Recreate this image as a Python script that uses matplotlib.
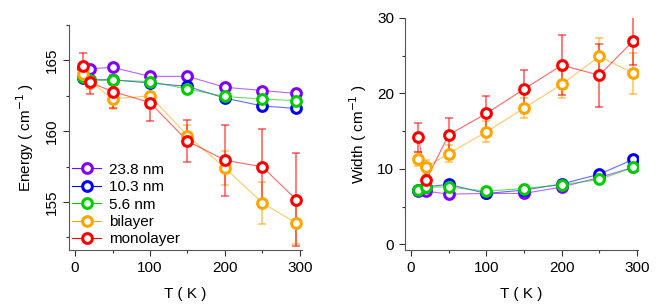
import matplotlib.pyplot as plt
import numpy as np
from matplotlib.ticker import MultipleLocator

plt.rcParams['font.family'] = ['Liberation Sans', 'DejaVu Sans']

T = np.array([10, 20, 50, 100, 150, 200, 250, 295])
labels = ['23.8 nm', '10.3 nm', '5.6 nm', 'bilayer', 'monolayer']
colors = ['#7f00ff', '#0000ff', '#00cc00', '#ffa500', '#ff0000']

# energy (cm-1)
e_238 = [164.45, 164.41, 164.5, 163.87, 163.87, 163.1, 162.87, 162.66]
e_103 = [163.75, 163.63, 163.63, 163.4, 163.16, 162.33, 161.78, 161.6]
e_56 = [163.8, 163.6, 163.6, 163.5, 162.97, 162.45, 162.26, 162.16]
e_bi = [164.05, 163.5, 162.28, 162.5, 159.68, 157.41, 154.93, 153.51]
e_mono = [164.62, 163.44, 162.8, 162.02, 159.3, 157.95, 157.48, 155.17]
e_bi_err = [0.4, 0.5, 0.7, 0.8, 0.75, 1.2, 1.5, 1.5]
e_mono_err = [0.9, 0.8, 1.2, 1.3, 1.5, 2.5, 2.65, 3.3]

# width (cm-1)
w_238 = [7.1, 7.06, 6.66, 6.75, 6.75, 7.6, 8.87, 10.2]
w_103 = [7.2, 7.63, 7.95, 6.75, 7.2, 8.0, 9.3, 11.26]
w_56 = [7.2, 7.6, 7.6, 7.06, 7.4, 7.9, 8.6, 10.2]
w_bi = [11.34, 10.23, 12.04, 14.9, 18.04, 21.2, 24.9, 22.67]
w_mono = [14.16, 8.5, 14.5, 17.34, 20.56, 23.73, 22.4, 26.95]
w_bi_err = [0.9, 1.0, 1.1, 1.4, 1.3, 1.8, 2.4, 2.7]
w_mono_err = [1.9, 1.4, 2.2, 2.3, 2.6, 4.0, 4.2, 3.2]

fig = plt.figure(figsize=(6.64, 3.08), dpi=100)
ax1 = fig.add_axes([0.104, 0.188, 0.351, 0.731])
ax2 = fig.add_axes([0.6095, 0.188, 0.351, 0.754])

def draw(ax, series, errs):
    for i, (y, c, lab) in enumerate(zip(series, colors, labels)):
        err = errs.get(i)
        if err is not None:
            ax.errorbar(T, y, yerr=err, fmt='none', ecolor=c, alpha=0.6,
                        elinewidth=1.2, capsize=3, capthick=1.2, zorder=2)
        ax.plot(T, y, '-', color=c, lw=0.8, alpha=0.6, zorder=3)
        ax.plot(T, y, 'o', mfc='white', mec=c, mew=2.2, ms=7, zorder=4)
        ax.plot([], [], '-o', color=c, lw=0.8, mfc='white', mec=c, mew=2.2, ms=7, label=lab)

draw(ax1, [e_238, e_103, e_56, e_bi, e_mono], {3: e_bi_err, 4: e_mono_err})
draw(ax2, [w_238, w_103, w_56, w_bi, w_mono], {3: w_bi_err, 4: w_mono_err})

ax1.set_xlim(-8, 303)
ax1.set_ylim(151.6, 167.5)
ax2.set_xlim(-8.3, 301)
ax2.set_ylim(-0.75, 30)

for ax in (ax1, ax2):
    for s in ['top', 'right']:
        ax.spines[s].set_visible(False)
    ax.spines['left'].set_color('#555555')
    ax.spines['bottom'].set_color('#555555')
    ax.xaxis.set_major_locator(MultipleLocator(100))
    ax.xaxis.set_minor_locator(MultipleLocator(50))
    ax.tick_params(which='major', direction='out', length=4, width=0.8, labelsize=11, color='#333333')
    ax.tick_params(which='minor', direction='out', length=2.5, width=0.8, color='#333333')
    ax.set_xlabel('T ( K )', fontsize=11, labelpad=9)

ax1.yaxis.set_major_locator(MultipleLocator(5))
ax1.yaxis.set_minor_locator(MultipleLocator(2.5))
plt.setp(ax1.get_yticklabels(), rotation=90, va='center')
ax1.set_ylabel('Energy ( cm$^{-1}$ )', fontsize=11, labelpad=6)

ax2.yaxis.set_major_locator(MultipleLocator(10))
ax2.yaxis.set_minor_locator(MultipleLocator(5))
ax2.set_ylabel('Width ( cm$^{-1}$ )', fontsize=11, labelpad=6)

ax1.legend(loc='lower left', frameon=False, fontsize=11, handlelength=1.9,
           handletextpad=0.5, labelspacing=0.22, borderaxespad=0.0,
           bbox_to_anchor=(-0.012, -0.01))

fig.savefig('out.png', dpi=100)
